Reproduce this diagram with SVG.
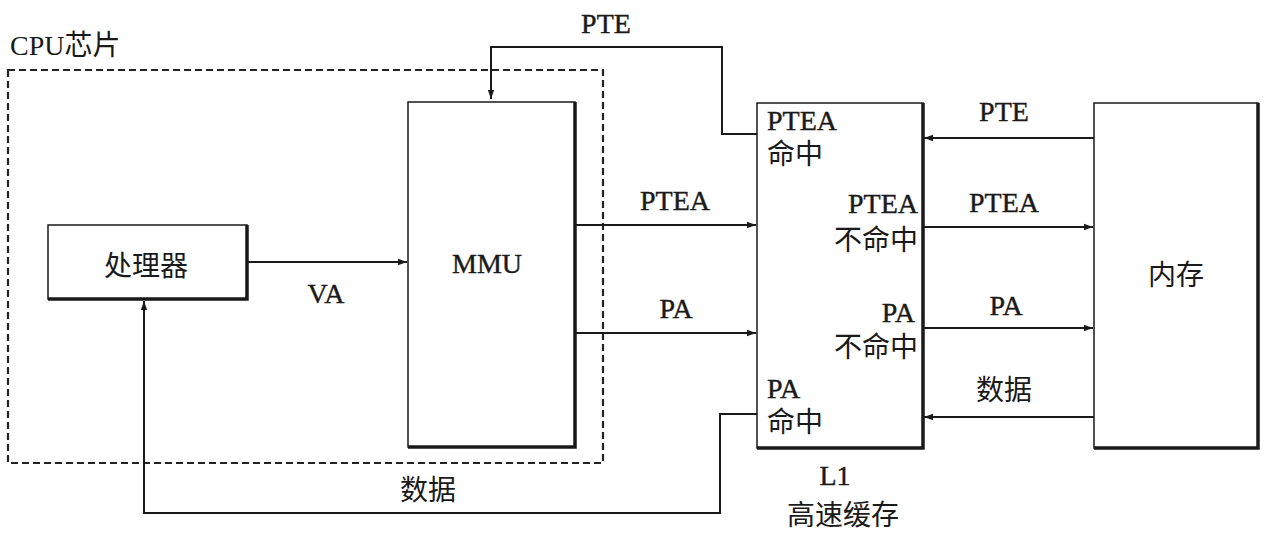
<svg xmlns="http://www.w3.org/2000/svg" width="1267" height="535" viewBox="0 0 1267 535">
<defs>
<style>
.lat{font-family:"Liberation Serif","Noto Sans CJK SC",serif;font-size:28px;fill:#1a1a1a;stroke:#1a1a1a;stroke-width:0.4}
.cjk{font-family:"Liberation Serif","Noto Sans CJK SC",serif;font-size:28px;fill:#1a1a1a}
.box{fill:#fff;stroke:#1a1a1a;stroke-width:1.5}
.sh{fill:none;stroke:#1a1a1a;stroke-width:3.5}
.ln{fill:none;stroke:#1a1a1a;stroke-width:2}
.dash{fill:none;stroke:#222;stroke-width:2.2;stroke-dasharray:7,4}
.mid{text-anchor:middle}
.end{text-anchor:end}
</style>
<marker id="ah" viewBox="0 0 10 10" refX="10" refY="5" markerWidth="9" markerHeight="9" markerUnits="userSpaceOnUse" orient="auto">
<path d="M0,1.5 L10,5 L0,8.5 Z" fill="#1a1a1a"/>
</marker>
</defs>
<rect width="1267" height="535" fill="#fff"/>

<g id="cpu-chip">
<rect class="dash" x="8" y="70" width="595" height="393"/>
<text class="cjk" x="10" y="55">CPU芯片</text>
</g>

<g id="processor">
<rect class="box" x="48" y="225" width="199" height="74"/>
<path class="sh" d="M247,225 V299 H48"/>
<text class="cjk mid" x="146" y="276">处理器</text>
</g>

<g id="mmu">
<rect class="box" x="408" y="102" width="167" height="345"/>
<path class="sh" d="M575,102 V447 H408"/>
<text class="lat mid" x="487" y="273">MMU</text>
</g>

<g id="l1-cache">
<rect class="box" x="757" y="103" width="166" height="345"/>
<path class="sh" d="M923,103 V448 H757"/>
<text class="lat" x="767" y="130">PTEA</text>
<text class="cjk" x="767" y="164">命中</text>
<text class="lat end" x="918" y="213">PTEA</text>
<text class="cjk end" x="918" y="250">不命中</text>
<text class="lat end" x="915" y="322">PA</text>
<text class="cjk end" x="918" y="357">不命中</text>
<text class="lat" x="767" y="398">PA</text>
<text class="cjk" x="767" y="432">命中</text>
<text class="lat mid" x="835" y="485">L1</text>
<text class="cjk mid" x="843" y="525">高速缓存</text>
</g>

<g id="memory">
<rect class="box" x="1094" y="103" width="164" height="345"/>
<path class="sh" d="M1258,103 V448 H1094"/>
<text class="cjk mid" x="1176" y="285">内存</text>
</g>

<g id="connectors">
<path class="ln" d="M247,262 H407" marker-end="url(#ah)"/>
<path class="ln" d="M575,225 H756" marker-end="url(#ah)"/>
<path class="ln" d="M575,333 H756" marker-end="url(#ah)"/>
<path class="ln" d="M757,134 H722 V47 H491 V99" marker-end="url(#ah)"/>
<path class="ln" d="M757,414 H720 V513 H144 V301" marker-end="url(#ah)"/>
<path class="ln" d="M1094,138 H924" marker-end="url(#ah)"/>
<path class="ln" d="M923,227 H1093" marker-end="url(#ah)"/>
<path class="ln" d="M923,328 H1093" marker-end="url(#ah)"/>
<path class="ln" d="M1094,417 H924" marker-end="url(#ah)"/>
</g>

<g id="labels">
<text class="lat mid" x="606" y="33">PTE</text>
<text class="lat mid" x="326" y="303">VA</text>
<text class="lat mid" x="675" y="210">PTEA</text>
<text class="lat mid" x="676" y="318">PA</text>
<text class="cjk mid" x="428" y="500">数据</text>
<text class="lat mid" x="1004" y="121">PTE</text>
<text class="lat mid" x="1004" y="212">PTEA</text>
<text class="lat mid" x="1006" y="315">PA</text>
<text class="cjk mid" x="1004" y="400">数据</text>
</g>
</svg>
